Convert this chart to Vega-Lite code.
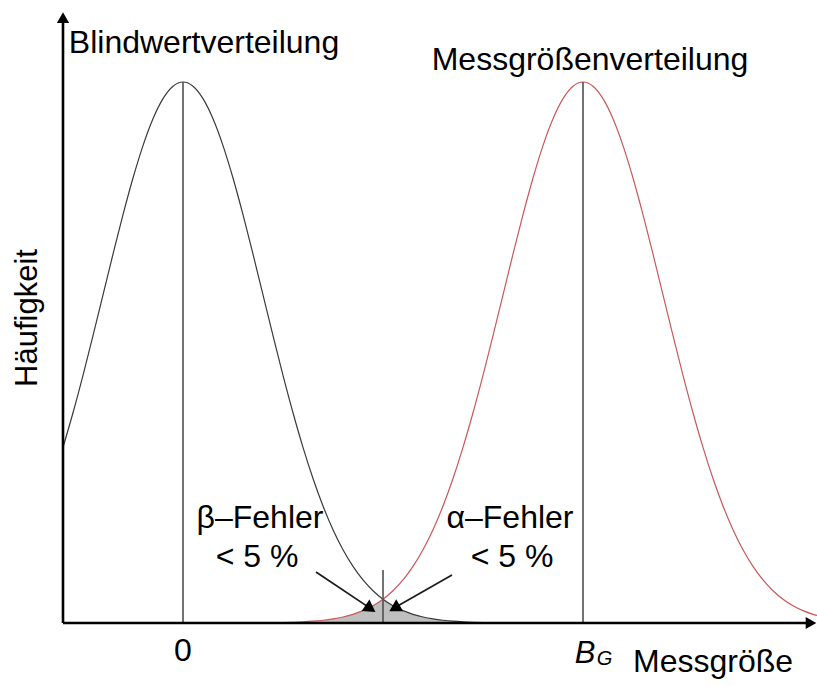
{
  "$schema": "https://vega.github.io/schema/vega-lite/v6.json",
  "width": 754,
  "height": 611,
  "autosize": {"type": "none"},
  "padding": {"left": 63, "top": 12, "right": 0, "bottom": 63},
  "background": "white",
  "config": {"view": {"stroke": null}},
  "encoding": {
    "x": {"field": "x", "type": "quantitative", "scale": {"domain": [-1.2, 6.34], "nice": false, "zero": false}, "axis": null},
    "y": {"field": "y", "type": "quantitative", "scale": {"domain": [0, 1.1294], "nice": false, "zero": false}, "axis": null}
  },
  "layer": [
    {
      "data": {"values": [
        {"x": 0.8, "y": 0.00034}, {"x": 1.0, "y": 0.00088}, {"x": 1.2, "y": 0.00219}, {"x": 1.3, "y": 0.00336},
        {"x": 1.4, "y": 0.00509}, {"x": 1.5, "y": 0.00758}, {"x": 1.6, "y": 0.01111}, {"x": 1.7, "y": 0.01604},
        {"x": 1.8, "y": 0.0228}, {"x": 1.9, "y": 0.0319}, {"x": 2.0, "y": 0.04394}, {"x": 2.1, "y": 0.0319},
        {"x": 2.2, "y": 0.0228}, {"x": 2.3, "y": 0.01604}, {"x": 2.4, "y": 0.01111}, {"x": 2.5, "y": 0.00758},
        {"x": 2.6, "y": 0.00509}, {"x": 2.7, "y": 0.00336}, {"x": 2.8, "y": 0.00219}, {"x": 3.0, "y": 0.00088},
        {"x": 3.2, "y": 0.00034}
      ]},
      "mark": {"type": "area", "color": "#bfbfbf", "opacity": 1}
    },
    {
      "data": {"values": [
        {"s": "Blindwert", "x": -1.2, "y": 0.32465}, {"s": "Blindwert", "x": -1.1, "y": 0.38857},
        {"s": "Blindwert", "x": -1.0, "y": 0.45783}, {"s": "Blindwert", "x": -0.9, "y": 0.5311},
        {"s": "Blindwert", "x": -0.8, "y": 0.60653}, {"s": "Blindwert", "x": -0.7, "y": 0.68194},
        {"s": "Blindwert", "x": -0.6, "y": 0.75484}, {"s": "Blindwert", "x": -0.5, "y": 0.82258},
        {"s": "Blindwert", "x": -0.4, "y": 0.8825}, {"s": "Blindwert", "x": -0.3, "y": 0.9321},
        {"s": "Blindwert", "x": -0.2, "y": 0.96923}, {"s": "Blindwert", "x": -0.1, "y": 0.99222},
        {"s": "Blindwert", "x": 0.0, "y": 1.0}, {"s": "Blindwert", "x": 0.1, "y": 0.99222},
        {"s": "Blindwert", "x": 0.2, "y": 0.96923}, {"s": "Blindwert", "x": 0.3, "y": 0.9321},
        {"s": "Blindwert", "x": 0.4, "y": 0.8825}, {"s": "Blindwert", "x": 0.5, "y": 0.82258},
        {"s": "Blindwert", "x": 0.6, "y": 0.75484}, {"s": "Blindwert", "x": 0.7, "y": 0.68194},
        {"s": "Blindwert", "x": 0.8, "y": 0.60653}, {"s": "Blindwert", "x": 0.9, "y": 0.5311},
        {"s": "Blindwert", "x": 1.0, "y": 0.45783}, {"s": "Blindwert", "x": 1.1, "y": 0.38857},
        {"s": "Blindwert", "x": 1.2, "y": 0.32465}, {"s": "Blindwert", "x": 1.3, "y": 0.26706},
        {"s": "Blindwert", "x": 1.4, "y": 0.21627}, {"s": "Blindwert", "x": 1.5, "y": 0.17242},
        {"s": "Blindwert", "x": 1.6, "y": 0.13534}, {"s": "Blindwert", "x": 1.7, "y": 0.10458},
        {"s": "Blindwert", "x": 1.8, "y": 0.07956}, {"s": "Blindwert", "x": 1.9, "y": 0.05958},
        {"s": "Blindwert", "x": 2.0, "y": 0.04394}, {"s": "Blindwert", "x": 2.1, "y": 0.0319},
        {"s": "Blindwert", "x": 2.2, "y": 0.0228}, {"s": "Blindwert", "x": 2.3, "y": 0.01604},
        {"s": "Blindwert", "x": 2.4, "y": 0.01111}, {"s": "Blindwert", "x": 2.5, "y": 0.00758},
        {"s": "Blindwert", "x": 2.6, "y": 0.00509}, {"s": "Blindwert", "x": 2.7, "y": 0.00336},
        {"s": "Blindwert", "x": 2.8, "y": 0.00219}, {"s": "Blindwert", "x": 2.9, "y": 0.0014},
        {"s": "Blindwert", "x": 3.0, "y": 0.00088}, {"s": "Blindwert", "x": 3.2, "y": 0.00034},
        {"s": "Blindwert", "x": 3.5, "y": 0.00007}, {"s": "Blindwert", "x": 4.0, "y": 0.0},
        {"s": "Messgröße", "x": -1.2, "y": 0.0}, {"s": "Messgröße", "x": 0.0, "y": 0.0},
        {"s": "Messgröße", "x": 0.5, "y": 0.00007}, {"s": "Messgröße", "x": 0.8, "y": 0.00034},
        {"s": "Messgröße", "x": 1.0, "y": 0.00088}, {"s": "Messgröße", "x": 1.1, "y": 0.0014},
        {"s": "Messgröße", "x": 1.2, "y": 0.00219}, {"s": "Messgröße", "x": 1.3, "y": 0.00336},
        {"s": "Messgröße", "x": 1.4, "y": 0.00509}, {"s": "Messgröße", "x": 1.5, "y": 0.00758},
        {"s": "Messgröße", "x": 1.6, "y": 0.01111}, {"s": "Messgröße", "x": 1.7, "y": 0.01604},
        {"s": "Messgröße", "x": 1.8, "y": 0.0228}, {"s": "Messgröße", "x": 1.9, "y": 0.0319},
        {"s": "Messgröße", "x": 2.0, "y": 0.04394}, {"s": "Messgröße", "x": 2.1, "y": 0.05958},
        {"s": "Messgröße", "x": 2.2, "y": 0.07956}, {"s": "Messgröße", "x": 2.3, "y": 0.10458},
        {"s": "Messgröße", "x": 2.4, "y": 0.13534}, {"s": "Messgröße", "x": 2.5, "y": 0.17242},
        {"s": "Messgröße", "x": 2.6, "y": 0.21627}, {"s": "Messgröße", "x": 2.7, "y": 0.26706},
        {"s": "Messgröße", "x": 2.8, "y": 0.32465}, {"s": "Messgröße", "x": 2.9, "y": 0.38857},
        {"s": "Messgröße", "x": 3.0, "y": 0.45783}, {"s": "Messgröße", "x": 3.1, "y": 0.5311},
        {"s": "Messgröße", "x": 3.2, "y": 0.60653}, {"s": "Messgröße", "x": 3.3, "y": 0.68194},
        {"s": "Messgröße", "x": 3.4, "y": 0.75484}, {"s": "Messgröße", "x": 3.5, "y": 0.82258},
        {"s": "Messgröße", "x": 3.6, "y": 0.8825}, {"s": "Messgröße", "x": 3.7, "y": 0.9321},
        {"s": "Messgröße", "x": 3.8, "y": 0.96923}, {"s": "Messgröße", "x": 3.9, "y": 0.99222},
        {"s": "Messgröße", "x": 4.0, "y": 1.0}, {"s": "Messgröße", "x": 4.1, "y": 0.99222},
        {"s": "Messgröße", "x": 4.2, "y": 0.96923}, {"s": "Messgröße", "x": 4.3, "y": 0.9321},
        {"s": "Messgröße", "x": 4.4, "y": 0.8825}, {"s": "Messgröße", "x": 4.5, "y": 0.82258},
        {"s": "Messgröße", "x": 4.6, "y": 0.75484}, {"s": "Messgröße", "x": 4.7, "y": 0.68194},
        {"s": "Messgröße", "x": 4.8, "y": 0.60653}, {"s": "Messgröße", "x": 4.9, "y": 0.5311},
        {"s": "Messgröße", "x": 5.0, "y": 0.45783}, {"s": "Messgröße", "x": 5.1, "y": 0.38857},
        {"s": "Messgröße", "x": 5.2, "y": 0.32465}, {"s": "Messgröße", "x": 5.3, "y": 0.26706},
        {"s": "Messgröße", "x": 5.4, "y": 0.21627}, {"s": "Messgröße", "x": 5.5, "y": 0.17242},
        {"s": "Messgröße", "x": 5.6, "y": 0.13534}, {"s": "Messgröße", "x": 5.7, "y": 0.10458},
        {"s": "Messgröße", "x": 5.8, "y": 0.07956}, {"s": "Messgröße", "x": 5.9, "y": 0.05958},
        {"s": "Messgröße", "x": 6.0, "y": 0.04394}, {"s": "Messgröße", "x": 6.1, "y": 0.0319},
        {"s": "Messgröße", "x": 6.2, "y": 0.0228}, {"s": "Messgröße", "x": 6.3, "y": 0.01604},
        {"s": "Messgröße", "x": 6.34, "y": 0.01387}
      ]},
      "mark": {"type": "line", "strokeWidth": 1.2, "interpolate": "monotone"},
      "encoding": {
        "color": {"field": "s", "type": "nominal", "scale": {"domain": ["Blindwert", "Messgröße"], "range": ["#3a3a3a", "#c9585a"]}, "legend": null}
      }
    },
    {
      "data": {"values": [
        {"x": 0, "y": 0, "y2": 1.0},
        {"x": 4, "y": 0, "y2": 1.0},
        {"x": 2, "y": 0, "y2": 0.098}
      ]},
      "mark": {"type": "rule", "color": "#505050", "strokeWidth": 1.6},
      "encoding": {"y2": {"field": "y2"}}
    },
    {
      "data": {"values": [
        {"x": -1.2, "y": 0, "x2": 6.28, "y2": 0},
        {"x": -1.2, "y": 0, "x2": -1.2, "y2": 1.115}
      ]},
      "mark": {"type": "rule", "color": "#000000", "strokeWidth": 2.6},
      "encoding": {"x2": {"field": "x2"}, "y2": {"field": "y2"}}
    },
    {
      "data": {"values": [{"x": 6.28, "y": 0}]},
      "mark": {"type": "point", "shape": "triangle-right", "filled": true, "color": "#000000", "size": 150, "opacity": 1}
    },
    {
      "data": {"values": [{"x": -1.2, "y": 1.119}]},
      "mark": {"type": "point", "shape": "triangle-up", "filled": true, "color": "#000000", "size": 150, "opacity": 1}
    },
    {
      "data": {"values": [
        {"x": 1.33, "y": 0.0943, "x2": 1.87, "y2": 0.0275},
        {"x": 2.69, "y": 0.0887, "x2": 2.12, "y2": 0.0285}
      ]},
      "mark": {"type": "rule", "color": "#1a1a1a", "strokeWidth": 1.7},
      "encoding": {"x2": {"field": "x2"}, "y2": {"field": "y2"}}
    },
    {
      "data": {"values": [{"x": 1.875, "y": 0.0265}]},
      "mark": {"type": "point", "shape": "triangle-right", "angle": 34, "filled": true, "color": "#000000", "size": 190, "opacity": 1}
    },
    {
      "data": {"values": [{"x": 2.115, "y": 0.0272}]},
      "mark": {"type": "point", "shape": "triangle-left", "angle": -30, "filled": true, "color": "#000000", "size": 190, "opacity": 1}
    },
    {
      "data": {"values": [
        {"x": 0.21, "y": 1.0536, "text": "Blindwertverteilung"},
        {"x": 4.07, "y": 1.0222, "text": "Messgrößenverteilung"},
        {"x": 0.77, "y": 0.1756, "text": "β–Fehler"},
        {"x": 0.74, "y": 0.1035, "text": "< 5 %"},
        {"x": 3.27, "y": 0.1756, "text": "α–Fehler"},
        {"x": 3.29, "y": 0.1035, "text": "< 5 %"},
        {"x": 0.0, "y": -0.0702, "text": "0"},
        {"x": 5.3, "y": -0.0906, "text": "Messgröße"}
      ]},
      "mark": {"type": "text", "font": "Liberation Sans", "fontSize": 32, "align": "center", "baseline": "alphabetic", "color": "#000000"},
      "encoding": {"text": {"field": "text"}}
    },
    {
      "data": {"values": [{"x": -1.46, "y": 0.5638, "text": "Häufigkeit"}]},
      "mark": {"type": "text", "font": "Liberation Sans", "fontSize": 31, "angle": 270, "align": "center", "baseline": "alphabetic", "color": "#000000"},
      "encoding": {"text": {"field": "text"}}
    },
    {
      "data": {"values": [{"x": 4.02, "y": -0.0739, "text": "B"}]},
      "mark": {"type": "text", "font": "Liberation Sans", "fontSize": 31, "fontStyle": "italic", "align": "center", "baseline": "alphabetic", "color": "#000000"},
      "encoding": {"text": {"field": "text"}}
    },
    {
      "data": {"values": [{"x": 4.215, "y": -0.0776, "text": "G"}]},
      "mark": {"type": "text", "font": "Liberation Sans", "fontSize": 20, "fontStyle": "italic", "align": "center", "baseline": "alphabetic", "color": "#000000"},
      "encoding": {"text": {"field": "text"}}
    }
  ]
}
